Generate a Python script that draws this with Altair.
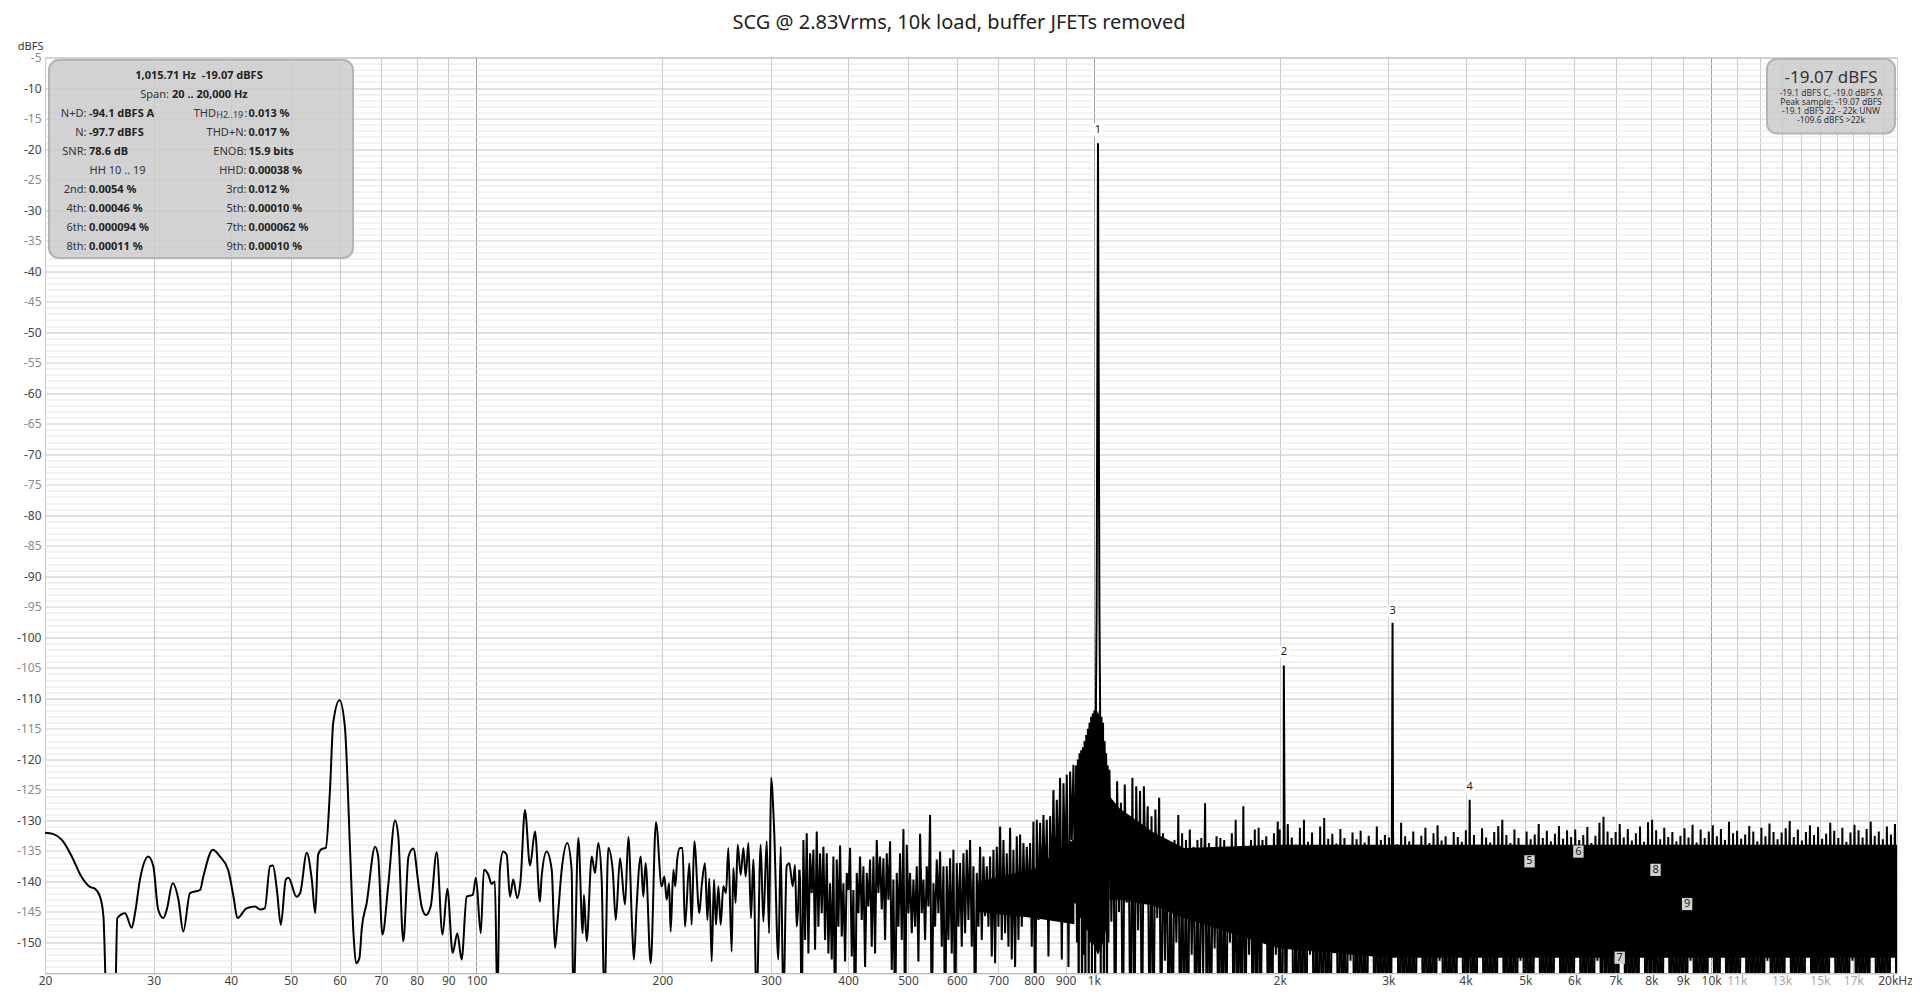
import altair as alt
import numpy as np
import pandas as pd

TITLE = "SCG @ 2.83Vrms, 10k load, buffer JFETs removed"
FONT = "Noto Sans"

# ---------------------------------------------------------------- data
# 20-100 Hz trace (Hz, dBFS)
lf_freq = [20.0, 20.6, 21.3, 22.1, 22.9, 23.65, 24.1, 24.56, 24.87, 25.17,
           25.97, 26.19, 26.96, 27.64, 27.98, 28.5, 29.4, 29.96, 30.5, 31.1,
           31.5, 32.2, 32.9, 33.5, 34.35, 35.66, 36.1, 37.4, 38.4, 39.6,
           40.4, 41.0, 42.4, 43.8, 44.6, 45.4, 46.3, 46.8, 47.5, 48.2,
           49.1, 49.6, 51.1, 51.8, 53.1, 54.1, 54.8, 55.4, 56.1, 57.0,
           57.9, 58.6, 60.0, 61.2, 62.4, 63.2, 63.8, 64.6, 65.2, 66.4,
           68.5, 69.3, 70.4, 72.0, 73.8, 74.7, 76.1, 77.6, 79.0, 80.5,
           81.5, 82.8, 84.3, 86.2, 88.1, 89.7, 91.5, 93.1, 94.6, 96.4,
           98.6, 99.8]
lf_db = [-132.0, -132.2, -133.2, -135.9, -139.2, -140.9, -141.2, -142.5, -145.7, -160,
         -160, -146.0, -145.2, -147.6, -145.2, -139.7, -135.9, -137.5, -144.6, -146.0,
         -144.6, -140.3, -143.0, -148.2, -141.9, -141.4, -139.2, -134.8, -135.9, -138.1,
         -142.5, -146.0, -144.4, -144.1, -144.6, -144.4, -137.5, -137.4, -141.4, -147.1,
         -139.7, -139.4, -142.5, -141.9, -135.3, -139.7, -145.2, -135.6, -134.7, -134.5,
         -125.0, -114.0, -110.3, -114.6, -134.8, -148.5, -153.4, -152.6, -147.6, -143.5,
         -134.3, -135.9, -148.7, -140.3, -130.0, -132.6, -149.8, -135.9, -134.6, -140.3,
         -144.1, -145.5, -144.1, -135.2, -148.7, -141.2, -151.7, -148.5, -152.8, -142.5,
         -142.2, -139.4]

# 100-333 Hz trace
lm_freq = [101.6, 102.8, 104.5, 105.8, 107.1, 108.1, 109.1, 110.5, 111.9, 113.3,
           114.7, 116.4, 117.9, 119.8, 122.1, 124.4, 126.7, 127.5, 129.9, 132.4,
           134.0, 135.2, 137.4, 140.3, 142.6, 143.5, 146.2, 148.6, 149.3, 150.8,
           153.7, 155.6, 157.5, 159.5, 161.1, 163.5, 166.2, 168.1, 170.8, 174.0,
           176.2, 178.8, 179.9, 181.7, 184.5, 186.3, 187.9, 191.5, 195.3, 199.5,
           201.5, 203.3, 205.1, 206.3, 208.4, 209.9, 211.5, 213.6, 215.7, 217.6,
           221.2, 223.1, 225.3, 229.6, 231.6, 234.5, 236.6, 238.3, 240.4, 242.5,
           244.3, 246.5, 248.6, 251.1, 253.6, 255.8, 259.0, 260.6, 262.9, 264.9,
           267.9, 270.6, 272.9, 275.7, 278.4, 280.8, 284.3, 288.6, 291.5, 295.2,
           297.8, 300.0, 303.4, 308.3, 311.0, 314.1, 318.0, 321.2, 325.2, 328.1,
           330.1, 333.4]
lm_db = [-148.5, -138.1, -138.9, -140.4, -140.0, -160, -138.1, -135.1, -135.6, -142.5,
         -139.7, -142.7, -139.7, -128.3, -137.4, -131.8, -143.3, -139.2, -135.1, -138.1,
         -150.9, -146.8, -138.1, -133.7, -138.1, -160, -132.9, -148.5, -142.2, -149.8,
         -135.9, -138.6, -133.7, -139.7, -160, -134.5, -138.1, -146.3, -136.2, -143.8,
         -132.7, -148.2, -152.8, -144.1, -135.9, -142.5, -137.0, -153.4, -130.3, -140.8,
         -139.2, -143.0, -140.3, -148.2, -138.1, -140.8, -136.2, -134.5, -134.5, -147.4,
         -137.0, -147.1, -133.4, -145.2, -140.8, -137.0, -146.3, -139.5, -153.1, -139.7,
         -147.1, -140.8, -147.1, -140.8, -141.9, -134.5, -151.5, -137.8, -143.5, -134.0,
         -138.9, -134.5, -139.2, -133.7, -146.0, -136.4, -160, -134.0, -146.6, -133.4,
         -148.5, -123.0, -131.2, -152.8, -134.3, -160, -137.5, -137.0, -140.8, -137.3,
         -147.4, -138.1]

# 334-933 Hz noise: alternating peaks / troughs
mid_span = [334.3, 932.6]
mid_peaks = [-139.7, -133.2, -132.1, -135.4, -134.8, -131.8, -135.4, -134.3, -135.4, -140.3,
             -135.9, -136.4, -134.1, -140.3, -138.6, -134.5, -141.4, -138.6, -135.9, -137.5,
             -138.6, -136.4, -135.9, -133.2, -135.9, -136.2, -135.4, -133.4, -139.7, -138.6,
             -135.4, -131.4, -134.0, -138.6, -139.7, -137.5, -132.2, -139.7, -137.5, -129.1,
             -140.3, -136.4, -135.1, -137.5, -137.5, -136.2, -134.8, -137.0, -137.0, -135.4,
             -134.8, -133.2, -137.5, -138.6, -134.3, -135.9, -137.5, -135.9, -134.8, -134.3,
             -131.0, -133.2, -135.4, -131.2, -134.8, -132.6, -132.3, -133.7, -134.3, -133.7,
             -130.2, -129.9, -130.4, -129.1, -129.9, -129.3, -125.0, -126.6, -123.0, -123.9,
             -122.5, -122.0, -120.9]
mid_troughs = [-165, -149.6, -151.8, -141.9, -151.2, -147.4, -145.2, -149.6, -151.8, -152.8,
               -165, -147.4, -149.0, -153.1, -141.4, -152.3, -165, -145.2, -146.3, -154.0,
               -144.1, -150.7, -151.8, -141.9, -144.6, -149.6, -143.0, -154.5, -165, -147.4,
               -149.6, -165, -145.2, -148.5, -147.4, -153.1, -145.2, -149.6, -144.1, -165,
               -147.4, -145.2, -150.7, -165, -149.6, -151.8, -165, -147.4, -150.7, -148.5,
               -146.3, -150.7, -165, -147.4, -149.6, -145.7, -147.4, -152.3, -153.4, -147.4,
               -149.6, -148.5, -150.7, -152.8, -154.0, -149.6, -147.4, -145.2, -144.1, -150.7,
               -165, -146.3, -143.0, -141.9, -152.3, -141.4, -144.1, -139.2, -152.8, -139.7,
               -154.0, -133.2, -143.6]

# around the fundamental
fund_freq = [936, 939, 942, 945, 948, 951, 954, 957, 960, 963,
             966, 969, 972, 975, 978, 981, 984, 987, 990, 993,
             996, 999, 1002, 1005, 1008, 1010.5, 1013, 1014.8, 1015.71, 1016.6,
             1018.5, 1021, 1023.5, 1026, 1029, 1032, 1035, 1038, 1041, 1044,
             1047, 1050, 1053, 1056, 1059]
fund_db = [-121, -150, -120, -162, -119, -146, -118.5, -165, -118, -152,
           -117, -160, -116, -148, -115, -163, -114, -150, -113, -158,
           -112.5, -145, -112, -160, -110, -95, -60, -35, -19.07, -35,
           -60, -95, -110, -160, -113, -150, -114, -162, -117, -146.6,
           -119, -165, -121, -150, -122]

# 1.06-2 kHz noise
hf1_span = [1060, 2000]
hf1_peaks = [-121.7, -127.7, -123.6, -127.1, -124.1, -131.0, -123.0, -124.4, -125.2, -124.4,
             -127.7, -129.3, -128.2, -126.3, -132.1, -133.2, -134.8, -133.2, -129.1, -132.1,
             -133.2, -131.5, -134.3, -133.2, -132.9, -127.2, -133.7, -134.8, -132.6, -132.9,
             -133.2, -134.8, -132.1, -129.9, -134.8, -127.7, -134.3, -133.2, -131.5, -131.2,
             -133.2, -132.6, -135.4, -132.1, -130.2]
hf1_troughs = [-146.6, -170, -145.0, -170, -143.5, -170, -170, -148, -170, -141,
               -170, -170, -146, -170, -153, -170, -170, -150, -170, -170,
               -170, -152, -170, -170, -155, -170, -170, -151, -170, -170,
               -170, -150, -170, -170, -170, -170, -152, -170, -170, -170,
               -148, -170, -170, -152, -170]

# 2-20 kHz noise
hf2_span = [2000, 20000]
hf2_peaks = [
    -131.5, -133.0, -130.6, -132.8, -134.0, -131.2, -129.9, -133.5, -132.0, -134.2,
    -131.0, -129.6, -133.0, -132.2, -133.8, -131.4, -132.9, -134.4, -132.0, -133.1,
    -131.7, -133.6, -132.5, -134.3, -131.0, -133.2, -132.4,
    -132.8, -131.5, -133.9, -130.4, -132.6, -133.4, -131.8, -134.0, -132.5, -131.2,
    -133.7, -132.1, -130.8, -133.3, -132.6, -134.1, -131.9, -132.7, -133.5,
    -131.6, -133.2, -132.4, -134.0, -131.3, -132.8, -133.6, -131.9, -130.9, -129.9,
    -132.4, -133.7, -131.5, -132.9, -134.2,
    -131.8, -133.1, -132.3, -130.6, -132.9, -131.7, -133.4, -132.2, -130.9, -133.0,
    -131.6, -132.7,
    -131.5, -133.2, -132.4, -131.1, -133.7, -132.5, -130.4, -129.4, -131.8, -132.9,
    -131.9, -130.6, -132.8, -131.4, -133.3, -132.1, -131.0, -133.5, -130.3,
    -129.9, -131.6, -133.1, -131.2, -132.7, -131.9, -133.4, -132.5,
    -131.3, -132.8, -130.7, -133.6, -131.5, -132.9, -131.8,
    -130.8, -132.6, -131.4, -133.2, -130.2, -132.1, -131.7, -133.0, -132.3, -130.9,
    -131.8, -133.4, -131.2, -132.6, -130.5, -131.9, -133.1, -132.0, -131.3, -130.1,
    -132.7, -131.5, -133.3, -131.9, -130.8, -132.4, -131.1, -133.0, -132.2, -130.4,
    -131.7, -132.9, -131.2, -133.5, -132.0, -130.7, -131.6, -132.8, -131.4, -130.2,
    -132.5, -131.8, -133.1, -131.0, -132.3, -130.6]
hf2_troughs = [
    -175, -175, -151, -175, -175, -175, -175, -152, -175, -175,
    -175, -175, -175, -150, -175, -175, -175, -153, -175, -175,
    -175, -175, -151, -175, -175, -175, -175,
    -175, -152, -175, -175, -175, -175, -175, -150, -175, -175,
    -175, -175, -153, -175, -175, -175, -175, -151, -175,
    -175, -175, -175, -152, -175, -175, -175, -175, -150, -175,
    -175, -175, -175, -153, -175,
    -175, -175, -151, -175, -175, -175, -175, -152, -175, -175,
    -175, -175,
    -150, -175, -175, -175, -175, -153, -175, -175, -175, -175,
    -175, -151, -175, -175, -175, -175, -152, -175, -175,
    -175, -175, -175, -150, -175, -175, -175, -175,
    -175, -153, -175, -175, -175, -175, -151,
    -175, -175, -152, -175, -175, -175, -175, -150, -175, -175,
    -175, -175, -175, -153, -175, -175, -175, -175, -151, -175,
    -175, -175, -175, -152, -175, -175, -175, -175, -175, -150,
    -175, -175, -175, -175, -153, -175, -175, -175, -175, -151,
    -175, -175, -175, -175, -152, -175]

# dense core of the noise floor (solid band): segment, Hz, upper / lower dBFS
core_seg = ["a", "a", "a",
            "c", "c", "c", "c", "c",
            "b", "b", "b", "b", "b", "b", "b", "b", "b"]
core_freq = [650, 800, 930,
             970, 995, 1015.7, 1035, 1058,
             1060, 1100, 1250, 1400, 2000, 3000, 5000, 8000, 20000]
core_hi = [-140, -138, -133,
           -122, -115, -112, -116, -123,
           -126, -128, -132, -134.5, -134, -134, -134, -134, -134]
core_lo = [-145, -146, -147,
           -147, -150, -152, -150, -146,
           -143, -143, -144, -146, -151, -152.5, -152.5, -152.5, -152.5]

# harmonic peaks (2nd, 3rd, 4th)
harm_freq = [2031.4, 3047.1, 4062.8]
harm_db = [-104.6, -97.6, -126.6]

# harmonic markers
marker_text = ["1", "2", "3", "4", "5", "6", "7", "8", "9"]
marker_freq = [1015.71, 2031.42, 3047.13, 4062.84, 5078.55, 6094.26, 7109.97, 8125.68, 9141.39]
marker_db = [-16.8, -102.4, -95.7, -124.6, -136.7, -135.1, -152.5, -138.1, -143.7]

# axis ticks / labels
x_tick_values = [20, 30, 40, 50, 60, 70, 80, 90, 100, 200, 300, 400, 500, 600, 700, 800, 900,
                 1000, 2000, 3000, 4000, 5000, 6000, 7000, 8000, 9000, 10000, 11000, 12000,
                 13000, 14000, 15000, 16000, 17000, 18000, 19000, 20000]
x_tick_labels = ["20", "30", "40", "50", "60", "70", "80", "90", "100", "200", "300", "400",
                 "500", "600", "700", "800", "900", "1k", "2k", "3k", "4k", "5k", "6k", "7k",
                 "8k", "9k", "10k", "11k", "", "13k", "", "15k", "", "17k", "", "", "20kHz"]
x_grey_labels = [11000, 13000, 15000, 17000]
x_decades = [100, 1000, 10000]
y_label_values = list(range(-150, 0, 5))

# info boxes
info_head = "1,015.71 Hz\u00a0\u00a0-19.07 dBFS"
info_span_label = "Span:"
info_span_value = "20 .. 20,000 Hz"
info_left_labels_a = ["N+D:", "N:", "SNR:"]
info_left_values_a = ["-94.1 dBFS A", "-97.7 dBFS", "78.6 dB"]
info_hh = "HH 10 .. 19"
info_left_labels_b = ["2nd:", "4th:", "6th:", "8th:"]
info_left_values_b = ["0.0054 %", "0.00046 %", "0.000094 %", "0.00011 %"]
thd_main, thd_sub = "THD", "H2..19"
info_right_labels = ["THD+N:", "ENOB:", "HHD:", "3rd:", "5th:", "7th:", "9th:"]
info_right_values = ["0.013 %", "0.017 %", "15.9 bits", "0.00038 %", "0.012 %", "0.00010 %",
                     "0.000062 %", "0.00010 %"]
level_big = "-19.07 dBFS"
level_lines = ["-19.1 dBFS C, -19.0 dBFS A", "Peak sample: -19.07 dBFS",
               "-19.1 dBFS 22 - 22k UNW", "-109.6 dBFS >22k"]


# ---------------------------------------------------------------- build tables
def zigzag(span, peaks, troughs):
    vals = []
    for p, t in zip(peaks, troughs):
        vals += [p, t]
    return list(np.geomspace(span[0], span[1], len(vals))), vals


low = pd.DataFrame({"f": list(lf_freq) + list(lm_freq), "db": list(lf_db) + list(lm_db)})

hf = [lm_freq[-1]]
hd = [lm_db[-1]]
for span, pk, tr in [(mid_span, mid_peaks, mid_troughs),
                     (hf1_span, hf1_peaks, hf1_troughs),
                     (hf2_span, hf2_peaks, hf2_troughs)]:
    f, v = zigzag(span, pk, tr)
    hf += f
    hd += v
hf += fund_freq + harm_freq
hd += fund_db + harm_db
high = pd.DataFrame({"f": hf, "db": hd}).sort_values("f").reset_index(drop=True)

core = pd.DataFrame({"seg": core_seg, "f": core_freq, "hi": core_hi, "lo": core_lo})
markers = pd.DataFrame({"n": marker_text, "f": marker_freq, "db": marker_db})

# ---------------------------------------------------------------- axes
x_label_expr = "".join(f"datum.value == {v} ? '{l}' : " for v, l in zip(x_tick_values, x_tick_labels)) + "''"
grey_test = " || ".join(f"datum.value == {v}" for v in x_grey_labels)
dec_test = " || ".join(f"datum.value == {v}" for v in x_decades)
y_label_expr = ("indexof([" + ",".join(str(v) for v in y_label_values)
                + "], datum.value) >= 0 ? '' + datum.value : ''")

x_scale = alt.Scale(type="log", domain=[20, 20000], nice=False)
y_scale = alt.Scale(domain=[-155, -5], nice=False, zero=False)

x_axis = alt.Axis(values=x_tick_values, tickCount=200, labelExpr=x_label_expr, grid=True,
                  gridColor={"condition": {"test": dec_test, "value": "#9c9c9c"}, "value": "#cbcbcb"},
                  gridWidth=1, ticks=False, domain=False, title=None,
                  labelFont=FONT, labelFontSize=12, labelPadding=2,
                  labelColor={"condition": {"test": grey_test, "value": "#a8a8a8"}, "value": "#444444"},
                  labelOffset={"condition": {"test": "datum.value == 20000", "value": -2}, "value": 0},
                  labelFlush=False, labelOverlap=False, labelBound=False)
y_axis = alt.Axis(values=list(range(-155, -4)), tickCount=400, labelExpr=y_label_expr, grid=True,
                  gridColor={"condition": [{"test": "datum.value % 10 == 0", "value": "#c2c2c2"},
                                           {"test": "datum.value % 5 == 0", "value": "#cecece"}],
                             "value": "#e6e6e6"},
                  gridWidth=1, ticks=False, domain=False,
                  labelFont=FONT, labelFontSize=12, labelPadding=4,
                  labelColor={"condition": {"test": "datum.value % 10 == 0", "value": "#444444"},
                              "value": "#8a8a8a"},
                  labelFlush=False, labelOverlap=False,
                  title="dBFS", titleAngle=0, titleAlign="right", titleBaseline="bottom",
                  titleX=-2, titleY=-6.5, titleFont=FONT, titleFontSize=11,
                  titleFontWeight="normal", titleColor="#333333")

X = alt.X("f:Q", scale=x_scale, axis=x_axis)
Y = alt.Y("db:Q", scale=y_scale, axis=y_axis)

low_line = alt.Chart(low).mark_line(color="black", strokeWidth=2, clip=True,
                                    interpolate="monotone").encode(x=X, y=Y)
core_band = alt.Chart(core).mark_area(color="black", clip=True).encode(
    x=alt.X("f:Q", scale=x_scale), y=alt.Y("hi:Q", scale=y_scale), y2="lo:Q", detail="seg:N")
high_line = alt.Chart(high).mark_line(color="black", strokeWidth=2, clip=True,
                                      interpolate="linear", strokeJoin="bevel").encode(
    x=alt.X("f:Q", scale=x_scale), y=alt.Y("db:Q", scale=y_scale))

BOX = "M-0.85,-1L0.85,-1L0.85,1L-0.85,1Z"
marker_boxes = alt.Chart(markers).mark_point(shape=BOX, filled=True, size=150, opacity=1,
                                            strokeWidth=0).encode(
    x=alt.X("f:Q", scale=x_scale),
    y=alt.Y("db:Q", scale=y_scale),
    fill=alt.condition("toNumber(datum.n) <= 4", alt.value("white"), alt.value("#d2d2d2")),
)
marker_labels = alt.Chart(markers).mark_text(font=FONT, fontSize=11, color="#222222",
                                             baseline="middle", align="center").encode(
    x=alt.X("f:Q", scale=x_scale),
    y=alt.Y("db:Q", scale=y_scale),
    text="n:N",
)

one = alt.Data(values=[{"k": 0}])


def rbox(x, x2, y, y2):
    return alt.Chart(one).mark_rect(x=x, x2=x2, y=y, y2=y2, cornerRadius=10, fill="#c9c9c9",
                                    fillOpacity=0.82, stroke="#b4b4b4", strokeWidth=2)


def txt(text, x, y, size=11, weight="normal", align="left", color="#333333", lh=None):
    kw = dict(text=text, x=x, y=y, font=FONT, fontSize=size, fontWeight=weight, align=align,
              color=color, baseline="alphabetic")
    if lh:
        kw["lineHeight"] = lh
    return alt.Chart(one).mark_text(**kw)


row0 = 21.5
rows = 59.5
LH = 19
annot = [
    rbox(4, 308, 2.5, 200.5),
    txt(info_head, 154, row0, weight="bold", align="center", color="#222222"),
    txt(info_span_label, 124, row0 + LH, align="right"),
    txt(info_span_value, 127, row0 + LH, weight="bold", color="#222222"),
    txt(info_left_labels_a, 41.5, rows, align="right", lh=LH),
    txt(info_left_values_a, 44, rows, weight="bold", color="#222222", lh=LH),
    txt(info_hh, 72.5, rows + 3 * LH, align="center"),
    txt(info_left_labels_b, 41.5, rows + 4 * LH, align="right", lh=LH),
    txt(info_left_values_b, 44, rows + 4 * LH, weight="bold", color="#222222", lh=LH),
    txt(thd_main, 171, rows, align="right"),
    txt(thd_sub, 171.3, rows + 0.5, size=9),
    txt(":", 199.5, rows),
    txt(info_right_labels, 201.5, rows + LH, align="right", lh=LH),
    txt(info_right_values, 203.5, rows, weight="bold", color="#222222", lh=LH),
    rbox(1722, 1850, 1.5, 76),
    txt(level_big, 1786, 25.5, size=17, align="center"),
    txt(level_lines, 1786, 38.2, size=8.5, align="center", lh=9.1),
]

chart = alt.layer(low_line, core_band, high_line, marker_boxes, marker_labels, *annot).properties(
    width=1852,
    height=915.5,
    title=alt.TitleParams(TITLE, font=FONT, fontSize=20, fontWeight="normal", color="#222222",
                          anchor="middle", frame="group", offset=7, dx=-12),
    autosize=alt.AutoSizeParams(type="none"),
    padding={"left": 37, "top": 49.5, "right": 15, "bottom": 15},
).configure_view(stroke="#a8a8a8", strokeWidth=1)

chart.save("out.html", embed_options={"renderer": "svg", "actions": False})
